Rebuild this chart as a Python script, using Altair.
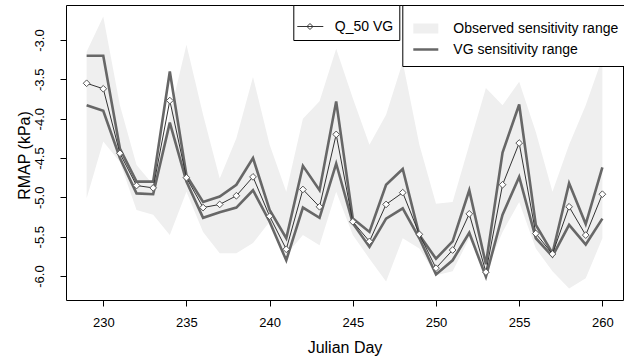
import altair as alt
import pandas as pd

# ---- data ----
days = list(range(229, 261))
q50 = [-3.55, -3.62, -4.44, -4.85, -4.88, -3.77, -4.75, -5.13, -5.09, -4.98, -4.74,
       -5.24, -5.66, -4.90, -5.12, -4.20, -5.31, -5.56, -5.09, -4.94, -5.47, -5.90,
       -5.67, -5.21, -5.95, -4.84, -4.31, -5.46, -5.72, -5.12, -5.48, -4.96]
vg_upper = [-3.20, -3.20, -4.38, -4.80, -4.80, -3.40, -4.72, -5.06, -4.99, -4.84, -4.50,
            -5.16, -5.52, -4.60, -4.91, -3.78, -5.27, -5.44, -4.84, -4.64, -5.48, -5.78,
            -5.56, -4.91, -5.85, -4.43, -3.82, -5.35, -5.71, -4.82, -5.34, -4.62]
vg_lower = [-3.83, -3.90, -4.50, -4.95, -4.96, -4.05, -4.80, -5.26, -5.19, -5.13, -4.91,
            -5.31, -5.80, -5.13, -5.26, -4.57, -5.33, -5.63, -5.27, -5.14, -5.52, -5.98,
            -5.80, -5.45, -6.01, -5.22, -4.74, -5.52, -5.75, -5.35, -5.60, -5.27]
obs_hi = [-3.15, -2.70, -3.83, -4.59, -4.84, -3.95, -3.06, -3.95, -4.76, -4.25, -3.47,
          -4.33, -4.93, -4.00, -3.78, -3.11, -3.74, -4.33, -3.95, -3.28, -4.33, -5.08,
          -5.06, -4.33, -3.61, -3.83, -3.53, -4.17, -4.93, -4.33, -3.83, -3.23]
obs_lo = [-5.01, -4.29, -4.55, -5.16, -5.22, -5.48, -4.93, -5.44, -5.71, -5.71, -5.58,
          -5.31, -5.73, -5.48, -5.61, -4.93, -5.48, -5.78, -6.07, -5.52, -5.65, -5.99,
          -5.94, -5.52, -5.94, -5.44, -5.06, -5.65, -5.94, -6.16, -6.03, -5.52]

x_ticks = [230, 235, 240, 245, 250, 255, 260]
y_ticks = [-6.0, -5.5, -5.0, -4.5, -4.0, -3.5, -3.0]
series_names = ["Observed sensitivity range", "VG sensitivity range"]
q_name = "Q_50 VG"

df = pd.DataFrame({"day": days, "q50": q50, "vg_upper": vg_upper, "vg_lower": vg_lower,
                   "obs_hi": obs_hi, "obs_lo": obs_lo})

FONT = "Liberation Sans"

xscale = alt.Scale(domain=[227.76, 261.24], nice=False, zero=False)
yscale = alt.Scale(domain=[-6.305, -2.555], nice=False, zero=False)

xaxis = alt.Axis(values=x_ticks, format="d", tickSize=6, labelPadding=10,
                 labelFontSize=13, labelColor="black", tickColor="black",
                 domain=False, grid=False, labelFlush=False,
                 title="Julian Day", titleFontSize=16, titleFontWeight="normal",
                 titleColor="black", titleX=278.5, titleY=52,
                 titleBaseline="alphabetic", titleAlign="center", titleAngle=0)
yaxis = alt.Axis(values=y_ticks,
                 labelExpr="replace(format(datum.value, '.1f'), '−', '-')",
                 labelAngle=270, labelAlign="center", labelBaseline="alphabetic",
                 labelPadding=16.5, tickSize=6, labelFontSize=13, labelColor="black",
                 tickColor="black", domain=False, grid=False, labelFlush=False,
                 labelOverlap=False,
                 title="RMAP (kPa)", titleFontSize=16, titleFontWeight="normal",
                 titleColor="black", titleAngle=270, titleX=-36.5, titleY=150,
                 titleBaseline="alphabetic", titleAlign="center")

leg_q = alt.Legend(title=None, orient="none", legendX=227.3, legendY=0,
                   symbolType="M-1.167,0L0.567,0M-0.32,-0.2L-0.12,0L-0.32,0.2L-0.52,0Z",
                   symbolSize=900, symbolStrokeColor="#333333", symbolFillColor="white",
                   symbolStrokeWidth=1, padding=6, strokeColor="black", fillColor="white",
                   labelFontSize=14, labelFont=FONT, labelColor="black", labelOffset=4.5,
                   labelLimit=300)
leg_r = alt.Legend(title=" ", titleFontSize=7, titlePadding=0, orient="none",
                   legendX=336.3, legendY=0,
                   symbolType="stroke", symbolSize=625, padding=6, clipHeight=21,
                   rowPadding=0, strokeColor="black", fillColor="white",
                   labelFontSize=14, labelFont=FONT, labelColor="black", labelOffset=10,
                   labelLimit=400)

base = alt.Chart(df)

band = base.mark_area(color="#efefef", opacity=1).encode(
    x=alt.X("day:Q", scale=xscale, axis=xaxis),
    y=alt.Y("obs_hi:Q", scale=yscale, axis=yaxis),
    y2="obs_lo:Q",
)

vg = base.transform_fold(["vg_upper", "vg_lower"], as_=["bound", "val"]).transform_calculate(
    series="'VG sensitivity range'"
).mark_line().encode(
    x=alt.X("day:Q", scale=xscale),
    y=alt.Y("val:Q", scale=yscale),
    detail="bound:N",
    color=alt.Color("series:N", scale=alt.Scale(domain=series_names, range=["#efefef", "#676767"]),
                    legend=leg_r),
    strokeWidth=alt.StrokeWidth("series:N", scale=alt.Scale(domain=series_names, range=[10, 2.6]),
                                legend=leg_r),
)

qline = base.transform_calculate(lab="'Q_50 VG'").mark_line(color="#333333", strokeWidth=1).encode(
    x=alt.X("day:Q", scale=xscale),
    y=alt.Y("q50:Q", scale=yscale),
    opacity=alt.Opacity("lab:N", scale=alt.Scale(domain=[q_name], range=[1]), legend=leg_q),
)

qpts = base.mark_point(shape="diamond", size=45, filled=True, fill="white",
                       stroke="#555555", strokeWidth=1, opacity=1).encode(
    x=alt.X("day:Q", scale=xscale),
    y=alt.Y("q50:Q", scale=yscale),
)

chart = alt.layer(band, vg, qline, qpts).properties(
    width=557, height=295,
    padding={"left": 66, "top": 5, "right": 1, "bottom": 60},
    autosize=alt.AutoSizeParams(type="none"),
).configure(font=FONT).configure_view(stroke="black", strokeWidth=1)

chart.save("out.html", embed_options={"renderer": "svg", "actions": False})
